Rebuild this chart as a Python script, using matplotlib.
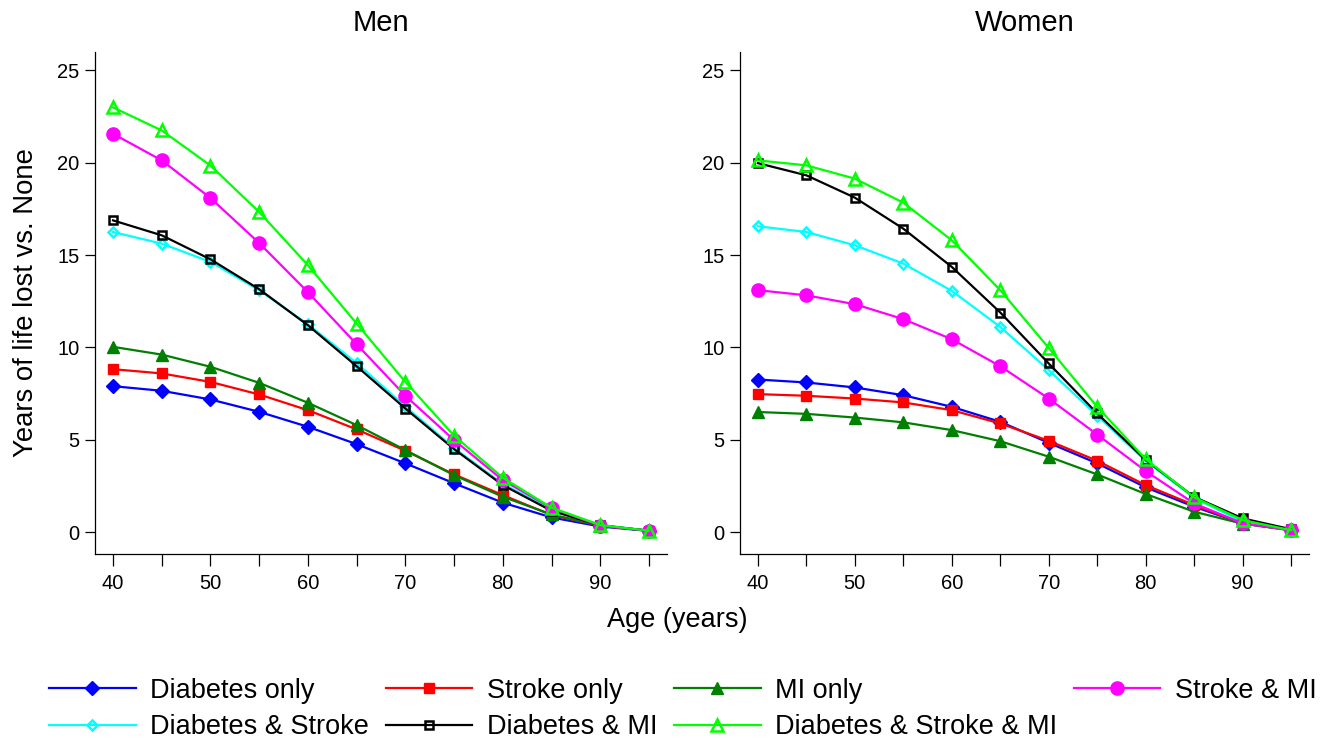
import matplotlib
matplotlib.use("Agg")
import matplotlib.pyplot as plt

plt.rcParams['font.family'] = ['Liberation Sans', 'DejaVu Sans']

ages = [40, 45, 50, 55, 60, 65, 70, 75, 80, 85, 90, 95]

# Men
men_diab = [7.9, 7.65, 7.18, 6.51, 5.70, 4.76, 3.72, 2.64, 1.59, 0.79, 0.30, 0.06]
men_stroke = [8.82, 8.59, 8.13, 7.45, 6.60, 5.56, 4.40, 3.12, 2.00, 0.92, 0.34, 0.07]
men_mi = [10.03, 9.61, 8.95, 8.08, 7.00, 5.79, 4.44, 3.08, 1.91, 0.95, 0.35, 0.07]
men_diab_stroke = [16.25, 15.62, 14.63, 13.10, 11.25, 9.15, 6.80, 4.55, 2.60, 1.25, 0.38, 0.07]
men_diab_mi = [16.88, 16.07, 14.77, 13.15, 11.20, 8.98, 6.69, 4.49, 2.54, 1.15, 0.36, 0.07]
men_stroke_mi = [21.57, 20.13, 18.09, 15.65, 12.99, 10.17, 7.38, 4.98, 2.81, 1.30, 0.34, 0.07]
men_all = [23.0, 21.75, 19.85, 17.33, 14.45, 11.29, 8.13, 5.22, 2.94, 1.32, 0.38, 0.07]

# Women
wom_diab = [8.26, 8.10, 7.83, 7.41, 6.78, 5.97, 4.83, 3.72, 2.42, 1.37, 0.47, 0.10]
wom_stroke = [7.47, 7.38, 7.23, 7.02, 6.60, 5.88, 4.94, 3.86, 2.54, 1.46, 0.47, 0.10]
wom_mi = [6.50, 6.40, 6.20, 5.94, 5.52, 4.92, 4.08, 3.12, 2.06, 1.10, 0.45, 0.10]
wom_diab_stroke = [16.56, 16.25, 15.53, 14.54, 13.06, 11.11, 8.77, 6.30, 3.85, 1.85, 0.55, 0.10]
wom_diab_mi = [19.98, 19.32, 18.11, 16.43, 14.36, 11.89, 9.13, 6.42, 3.90, 1.90, 0.74, 0.15]
wom_stroke_mi = [13.10, 12.82, 12.34, 11.53, 10.44, 8.98, 7.23, 5.28, 3.30, 1.55, 0.47, 0.10]
wom_all = [20.13, 19.86, 19.14, 17.84, 15.80, 13.10, 9.97, 6.78, 3.95, 1.88, 0.65, 0.10]

labels = ['Diabetes only', 'Stroke only', 'MI only', 'Diabetes & Stroke',
          'Diabetes & MI', 'Stroke & MI', 'Diabetes & Stroke & MI']

# colour, marker, size, filled
styles = [
    ('#0000FF', 'D', 6.8, True),
    ('#FF0000', 's', 7.5, True),
    ('#008000', '^', 8.5, True),
    ('#00FFFF', 'D', 5.6, False),
    ('#000000', 's', 6.2, False),
    ('#FF00FF', 'o', 9.5, True),
    ('#00FF00', '^', 8.5, False),
]

men = [men_diab, men_stroke, men_mi, men_diab_stroke, men_diab_mi, men_stroke_mi, men_all]
women = [wom_diab, wom_stroke, wom_mi, wom_diab_stroke, wom_diab_mi, wom_stroke_mi, wom_all]

fig = plt.figure(figsize=(13.26, 7.44), dpi=100)
ax1 = fig.add_axes([95/1326, 190/744, 572/1326, 502/744])
ax2 = fig.add_axes([740/1326, 190/744, 569/1326, 502/744])

handles = []
for ax, series, title in [(ax1, men, 'Men'), (ax2, women, 'Women')]:
    for vals, (col, mk, ms, filled), lab in zip(series, styles, labels):
        ln, = ax.plot(ages, vals, color=col, lw=1.6, marker=mk, markersize=ms,
                      markerfacecolor=col if filled else 'none',
                      markeredgecolor=col, markeredgewidth=1.0 if filled else 1.8,
                      label=lab)
        if ax is ax1:
            handles.append(ln)
    ax.set_xlim(38.15, 96.85)
    ax.set_ylim(-1.19, 26.0)
    ax.set_yticks([0, 5, 10, 15, 20, 25])
    ax.set_xticks([40, 50, 60, 70, 80, 90])
    ax.set_xticks([45, 55, 65, 75, 85, 95], minor=True)
    ax.spines['top'].set_visible(False)
    ax.spines['right'].set_visible(False)
    for s in ['left', 'bottom']:
        ax.spines[s].set_linewidth(0.9)
    ax.tick_params(axis='both', which='both', direction='out', labelsize=14.5,
                   width=0.9)
    ax.tick_params(axis='y', length=7, pad=4)
    ax.tick_params(axis='x', which='both', length=8.5, pad=6)
    ax.set_title(title, fontsize=21, pad=15)

ax1.set_ylabel('Years of life lost vs. None', fontsize=19.8, labelpad=13)
fig.text(677/1326, 1 - 620/744, 'Age (years)', fontsize=19.5, ha='center', va='center')

# matplotlib fills legend columns first, so reorder for row-wise layout
order = [0, 3, 1, 4, 2, 6, 5]
fig.legend([handles[i] for i in order], [labels[i] for i in order],
           loc='center', bbox_to_anchor=(683/1326, 1 - 709/744), ncol=4,
           frameon=False, fontsize=19.5, handlelength=3.2, handletextpad=0.55,
           columnspacing=0.6, labelspacing=0.38, borderaxespad=0, borderpad=0)

fig.savefig('out.png', dpi=100)
